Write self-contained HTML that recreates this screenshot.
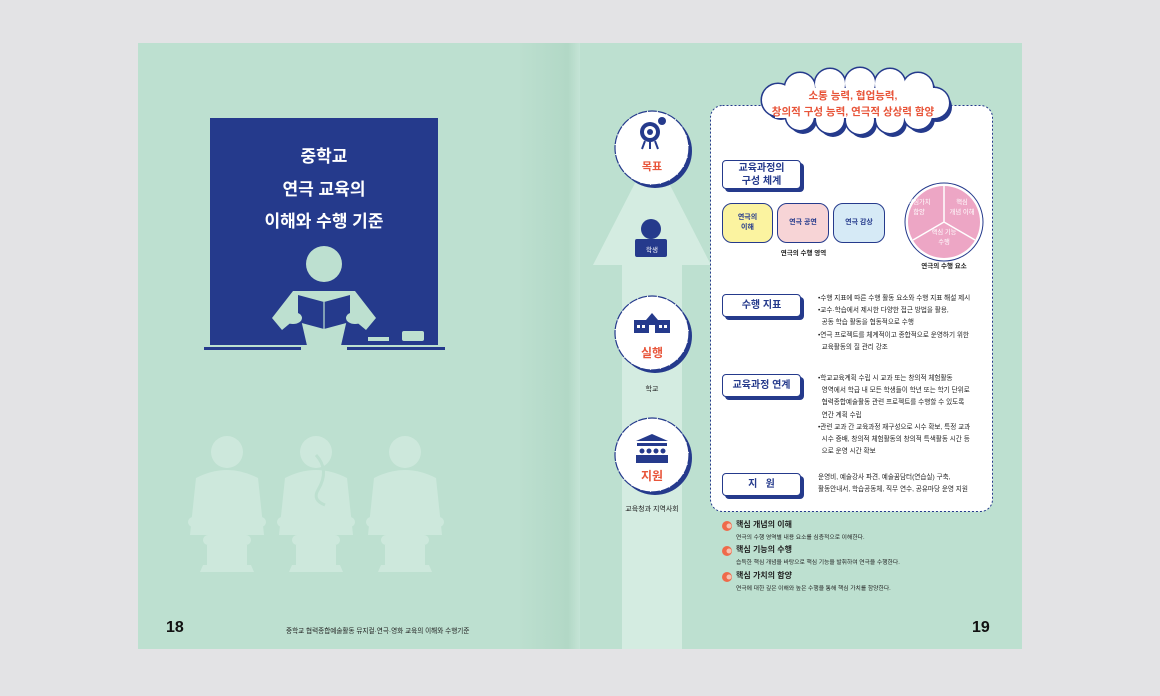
<!DOCTYPE html>
<html><head><meta charset="utf-8"><style>
*{margin:0;padding:0;box-sizing:border-box}
body{width:1160px;height:696px;background:#e3e3e5;position:relative;overflow:hidden;font-family:"Liberation Sans","Noto Sans CJK KR",sans-serif}
.a{position:absolute}
.t{position:absolute;white-space:nowrap;color:#222}
.lab{position:absolute;background:#fff;border:1.5px solid #253a8c;border-radius:4px;box-shadow:3px 3px 0 #253a8c;color:#253a8c;font-weight:bold;font-size:10px;text-align:center;display:flex;align-items:center;justify-content:center;line-height:1.3}
.bl{font-size:6.6px;line-height:12.2px;color:#222}
.rr{position:absolute;border:1.5px solid #253a8c;border-radius:10px;font-size:7px;font-weight:bold;display:flex;align-items:center;justify-content:center;text-align:center;color:#253a8c;line-height:1.4}
</style></head><body>
<svg class="a" style="left:0;top:0" width="1160" height="696">
<defs><linearGradient id="fold" x1="0" x2="1"><stop offset="0" stop-color="#bcdfcf"/><stop offset="0.8" stop-color="#b2d8c6"/><stop offset="1" stop-color="#c5e4d6"/></linearGradient>
<g id="cl">
<circle cx="778" cy="100" r="16"/><circle cx="800" cy="88" r="15"/><circle cx="830" cy="84" r="15"/><circle cx="860" cy="83" r="15"/><circle cx="890" cy="84" r="15"/><circle cx="918" cy="88" r="15"/><circle cx="934" cy="103" r="15"/>
<circle cx="800" cy="116" r="14"/><circle cx="830" cy="119" r="14"/><circle cx="860" cy="120" r="14"/><circle cx="890" cy="119" r="14"/><circle cx="918" cy="115" r="14"/>
</g></defs>
<rect x="138" y="43" width="884" height="606" fill="#bde0d0"/>
<rect x="520" y="43" width="60" height="606" fill="url(#fold)"/>
<!-- arrow -->
<path d="M622 649 L622 265 L593 265 L652 150 L711 265 L682 265 L682 649Z" fill="#d4ece1"/>
<!-- navy board -->
<rect x="210" y="118" width="228" height="227" fill="#253a8c"/>
<rect x="204" y="347" width="97" height="3" fill="#253a8c"/>
<rect x="347" y="347" width="98" height="3" fill="#253a8c"/>
<rect x="368" y="337" width="21" height="4" fill="#bde0d0"/>
<rect x="402" y="331" width="22" height="10" rx="2" fill="#bde0d0"/>
<circle cx="324" cy="264" r="18" fill="#bde0d0"/>
<path d="M272 318 L293 291 L355 291 L376 318 L366 330 L348 315 L340 350 L308 350 L300 315 L282 330Z" fill="#bde0d0"/>
<path d="M298 295 L324 302 L350 295 L350 322 L324 329 L298 322Z" fill="#253a8c"/>
<line x1="324" y1="302" x2="324" y2="329" stroke="#bde0d0" stroke-width="1.2"/>
<ellipse cx="293" cy="318" rx="9" ry="6" fill="#bde0d0"/><ellipse cx="355" cy="318" rx="9" ry="6" fill="#bde0d0"/>
<!-- chairs -->
<g fill="#cde8dc">
<circle cx="227" cy="452" r="16"/><path d="M196 478 Q227 462 258 478 L264 535 L190 535Z"/><rect x="188" y="517" width="78" height="10" rx="5"/><rect x="203" y="535" width="48" height="10" rx="5"/><rect x="207" y="545" width="40" height="20"/><path d="M203 565 L251 565 L254 572 L200 572Z"/>
<circle cx="316" cy="452" r="16"/><path d="M285 478 Q316 462 347 478 L353 535 L279 535Z"/><rect x="277" y="517" width="78" height="10" rx="5"/><rect x="292" y="535" width="48" height="10" rx="5"/><rect x="296" y="545" width="40" height="20"/><path d="M292 565 L340 565 L343 572 L289 572Z"/>
<circle cx="405" cy="452" r="16"/><path d="M374 478 Q405 462 436 478 L442 535 L368 535Z"/><rect x="366" y="517" width="78" height="10" rx="5"/><rect x="381" y="535" width="48" height="10" rx="5"/><rect x="385" y="545" width="40" height="20"/><path d="M381 565 L429 565 L432 572 L378 572Z"/>
</g>
<path d="M316 455 Q330 470 318 490 Q312 500 325 505" stroke="#bde0d0" stroke-width="3" fill="none"/>
<!-- dashed box -->
<rect x="710.5" y="105.5" width="282" height="406" rx="12" fill="#fff" stroke="#253a8c" stroke-dasharray="2 2"/>
<!-- cloud -->
<use href="#cl" fill="#253a8c" transform="translate(3,4)"/>
<use href="#cl" fill="#fff" stroke="#253a8c" stroke-width="3"/>
<use href="#cl" fill="#fff"/>
<rect x="775" y="88" width="160" height="30" fill="#fff"/>
<!-- badges -->
<g>
<circle cx="655" cy="151" r="37" fill="#253a8c"/><circle cx="652" cy="148" r="37" fill="#fff" stroke="#253a8c" stroke-width="1.2" stroke-dasharray="9 1"/>
<circle cx="655" cy="336" r="37" fill="#253a8c"/><circle cx="652" cy="333" r="37" fill="#fff" stroke="#253a8c" stroke-width="1.2" stroke-dasharray="9 1"/>
<circle cx="655" cy="458" r="37" fill="#253a8c"/><circle cx="652" cy="455" r="37" fill="#fff" stroke="#253a8c" stroke-width="1.2" stroke-dasharray="9 1"/>
</g>
<circle cx="650" cy="132" r="10" fill="#253a8c"/><circle cx="650" cy="132" r="6" fill="#fff"/><circle cx="650" cy="132" r="3" fill="#253a8c"/><circle cx="662" cy="121" r="4" fill="#253a8c"/>
<path d="M645 141 l-3 8 M650 141 v8 M655 141 l3 8" stroke="#253a8c" stroke-width="2"/>
<!-- student -->
<circle cx="651" cy="229" r="10" fill="#253a8c"/>
<rect x="635" y="239" width="32" height="18" rx="2" fill="#253a8c"/>
<!-- school -->
<path d="M634 320 L646 320 L652 313 L658 320 L670 320 L670 333 L634 333Z" fill="#253a8c"/>
<g fill="#fff"><rect x="637" y="325" width="3" height="3"/><rect x="642" y="325" width="3" height="3"/><rect x="659" y="325" width="3" height="3"/><rect x="664" y="325" width="3" height="3"/><rect x="649" y="325" width="6" height="8"/></g>
<!-- support -->
<path d="M636 441 L652 434 L668 441Z" fill="#253a8c"/><rect x="637" y="443" width="30" height="3" fill="#253a8c"/>
<g fill="#253a8c"><circle cx="642" cy="451" r="2.5"/><circle cx="649" cy="451" r="2.5"/><circle cx="656" cy="451" r="2.5"/><circle cx="663" cy="451" r="2.5"/><rect x="636" y="455" width="32" height="8"/></g>
<!-- pie -->
<circle cx="944" cy="222" r="39" fill="#fff" stroke="#253a8c" stroke-width="1"/>
<circle cx="944" cy="222" r="36" fill="#eda6c5"/>
<path d="M944 222 V186 M944 222 L975 240 M944 222 L913 240" stroke="#fff" stroke-width="1.5"/>
<!-- bullet icons -->
<g fill="#ef6a4a"><circle cx="727" cy="526" r="5"/><circle cx="727" cy="551" r="5"/><circle cx="727" cy="577" r="5"/></g>
<g fill="#f6c2b2"><circle cx="729" cy="526" r="2.5"/><circle cx="729" cy="551" r="2.5"/><circle cx="729" cy="577" r="2.5"/></g>
</svg>

<div class="t" style="left:210px;width:228px;top:141px;text-align:center;color:#fff;font-weight:bold;font-size:17px;line-height:32.5px">중학교<br>연극 교육의<br>이해와 수행 기준</div>

<div class="t" style="left:766px;width:174px;top:88px;text-align:center;color:#e8553a;font-weight:bold;font-size:10.5px;line-height:16px">소통 능력, 협업능력,<br>창의적 구성 능력, 연극적 상상력 함양</div>

<div class="t" style="left:622px;width:60px;top:158px;text-align:center;color:#e8553a;font-weight:bold;font-size:11px">목표</div>
<div class="t" style="left:622px;width:60px;top:244px;text-align:center;color:#fff;font-size:6.5px">학생</div>
<div class="t" style="left:622px;width:60px;top:344px;text-align:center;color:#e8553a;font-weight:bold;font-size:12px">실행</div>
<div class="t" style="left:622px;width:60px;top:384px;text-align:center;font-size:7px">학교</div>
<div class="t" style="left:622px;width:60px;top:467px;text-align:center;color:#e8553a;font-weight:bold;font-size:12px">지원</div>
<div class="t" style="left:602px;width:100px;top:504px;text-align:center;font-size:7px">교육청과 지역사회</div>

<div class="lab" style="left:722px;top:160px;width:79px;height:29px">교육과정의<br>구성 체계</div>
<div class="lab" style="left:722px;top:294px;width:79px;height:23px">수행 지표</div>
<div class="lab" style="left:722px;top:374px;width:79px;height:23px">교육과정 연계</div>
<div class="lab" style="left:722px;top:473px;width:79px;height:23px">지 &nbsp; 원</div>

<div class="rr" style="left:722px;top:203px;width:51px;height:40px;background:#fbf3a0">연극의<br>이해</div>
<div class="rr" style="left:777px;top:203px;width:52px;height:40px;background:#f7d4d6">연극 공연</div>
<div class="rr" style="left:833px;top:203px;width:52px;height:40px;background:#d6eaf6">연극 감상</div>
<div class="t" style="left:722px;width:163px;top:247px;text-align:center;font-size:6.5px;font-weight:bold">연극의 수행 영역</div>
<div class="t" style="left:905px;top:198px;font-size:6.3px;color:#fff;text-align:center;line-height:10px;width:28px">핵심가치<br>함양</div>
<div class="t" style="left:945px;top:198px;font-size:6.3px;color:#fff;text-align:center;line-height:10px;width:34px">핵심<br>개념 이해</div>
<div class="t" style="left:926px;top:228px;font-size:6.3px;color:#fff;text-align:center;line-height:10px;width:36px">핵심 기능<br>수행</div>
<div class="t" style="left:904px;width:80px;top:260px;text-align:center;font-size:6.5px;font-weight:bold">연극의 수행 요소</div>

<div class="t bl" style="left:818px;top:293px">•수행 지표에 따른 수행 활동 요소와 수행 지표 해설 제시<br>•교수·학습에서 제시한 다양한 접근 방법을 활용,<br>&nbsp; 공동 학습 활동을 협동적으로 수행<br>•연극 프로젝트를 체계적이고 종합적으로 운영하기 위한<br>&nbsp; 교육활동의 질 관리 강조</div>
<div class="t bl" style="left:818px;top:373px">•학교교육계획 수립 시 교과 또는 창의적 체험활동<br>&nbsp; 영역에서 학급 내 모든 학생들이 학년 또는 학기 단위로<br>&nbsp; 협력종합예술활동 관련 프로젝트를 수행할 수 있도록<br>&nbsp; 연간 계획 수립<br>•관련 교과 간 교육과정 재구성으로 시수 확보, 특정 교과<br>&nbsp; 시수 증배, 창의적 체험활동의 창의적 특색활동 시간 등<br>&nbsp; 으로 운영 시간 확보</div>
<div class="t bl" style="left:818px;top:472px">운영비, 예술강사 파견, 예술꿈담터(연습실) 구축,<br>활동안내서, 학습공동체, 직무 연수, 공유마당 운영 지원</div>

<div class="t" style="left:736px;top:519px;font-size:8px;font-weight:bold">핵심 개념의 이해</div>
<div class="t" style="left:736px;top:532px;font-size:5.8px">연극의 수행 영역별 내용 요소를 심층적으로 이해한다.</div>
<div class="t" style="left:736px;top:544px;font-size:8px;font-weight:bold">핵심 기능의 수행</div>
<div class="t" style="left:736px;top:557px;font-size:5.8px">습득한 핵심 개념을 바탕으로 핵심 기능을 발휘하여 연극을 수행한다.</div>
<div class="t" style="left:736px;top:570px;font-size:8px;font-weight:bold">핵심 가치의 함양</div>
<div class="t" style="left:736px;top:583px;font-size:5.8px">연극에 대한 깊은 이해와 높은 수행을 통해 핵심 가치를 함양한다.</div>

<div class="t" style="left:166px;top:619px;font-size:16px;font-weight:bold;color:#111">18</div>
<div class="t" style="left:286px;top:625px;font-size:6.6px">중학교 협력종합예술활동 뮤지컬·연극·영화 교육의 이해와 수행기준</div>
<div class="t" style="left:972px;top:619px;font-size:16px;font-weight:bold;color:#111">19</div>
</body></html>
